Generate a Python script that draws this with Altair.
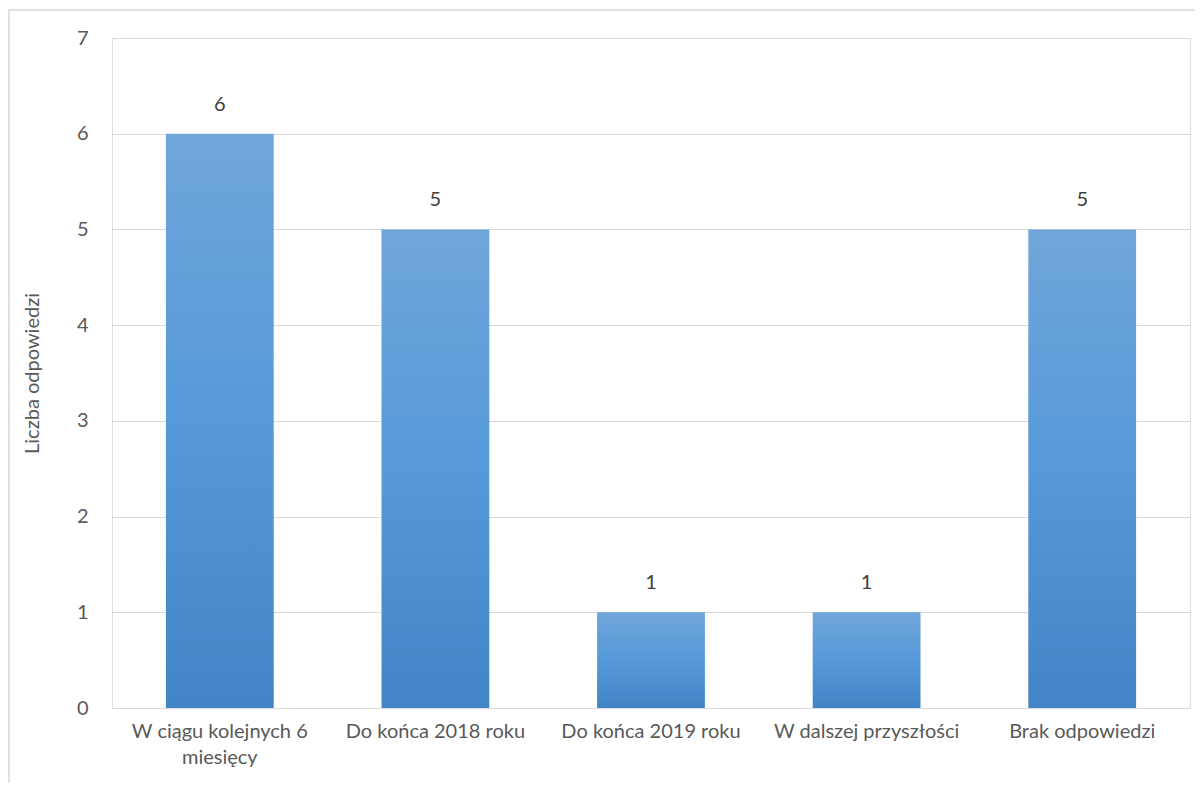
import altair as alt
import pandas as pd

categories = ["W ciągu kolejnych 6 miesięcy", "Do końca 2018 roku", "Do końca 2019 roku",
              "W dalszej przyszłości", "Brak odpowiedzi"]
values = [6, 5, 1, 1, 5]
y_ticks = [0, 1, 2, 3, 4, 5, 6, 7]

df = pd.DataFrame({"kategoria": categories, "liczba": values})

FONT = "Lato"
FS = 20
W, H = 1078, 670

gradient = alt.LinearGradient(
    gradient="linear", x1=0, y1=0, x2=0, y2=1,
    stops=[alt.GradientStop(color="#70a6da", offset=0),
           alt.GradientStop(color="#5599d9", offset=0.5),
           alt.GradientStop(color="#4285c6", offset=1)],
)

x_enc = alt.X("kategoria:N", sort=categories,
              scale=alt.Scale(paddingInner=0.5, paddingOuter=0.25),
              axis=alt.Axis(title=None, labelAngle=0, domain=False, ticks=False,
                            labelPadding=13, labelFontSize=FS, labelColor="#595959",
                            labelFont=FONT, labelLineHeight=26, labelLimit=400,
                            labelExpr="datum.label == 'W ciągu kolejnych 6 miesięcy' ? ['W ciągu kolejnych 6', 'miesięcy'] : datum.label"))
y_enc = alt.Y("liczba:Q", scale=alt.Scale(domain=[0, 7], nice=False),
              axis=alt.Axis(values=y_ticks, format="d", title="Liczba odpowiedzi", domain=False, ticks=False,
                            grid=True, gridColor="#d9d9d9", gridWidth=1.2,
                            labelPadding=24, labelFontSize=FS, labelColor="#595959", labelFont=FONT,
                            titleFontSize=FS, titleFont=FONT, titleColor="#595959",
                            titleFontWeight="normal", titlePadding=34))

bars = alt.Chart(df).mark_bar(fill=gradient).encode(x=x_enc, y=y_enc)
labels = alt.Chart(df).mark_text(dy=-29, fontSize=FS, font=FONT, color="#404040").encode(
    x=alt.X("kategoria:N", sort=categories), y="liczba:Q", text="liczba:Q")

frame = alt.Chart(pd.DataFrame({"a": [0]})).mark_rect(
    fill=None, stroke="#d9d9d9", strokeWidth=1.5).encode(
    x=alt.value(-103), x2=alt.value(W + 200), y=alt.value(-28), y2=alt.value(H + 200))

chart = alt.layer(frame, bars, labels).properties(
    width=W, height=H,
    autosize=alt.AutoSizeParams(type="none"),
    padding={"left": 104, "top": 30, "right": 5, "bottom": 75},
).configure_view(stroke=None).configure(background="white")

chart.save("out.html", embed_options={"renderer": "svg", "actions": False})
